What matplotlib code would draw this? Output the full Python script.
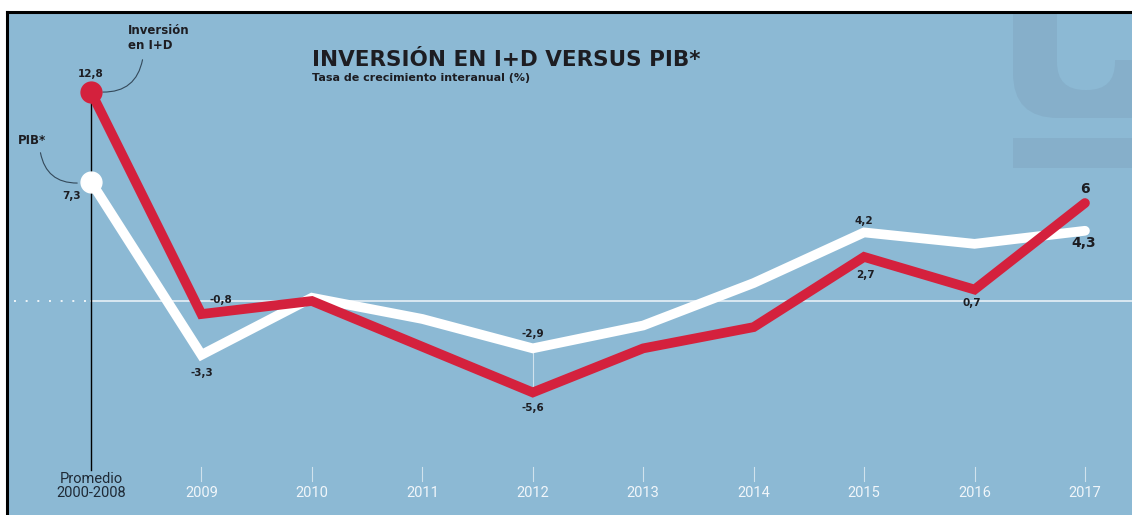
import matplotlib
matplotlib.use("Agg")
import matplotlib.pyplot as plt
from matplotlib.patches import Rectangle, FancyBboxPatch
from matplotlib.transforms import IdentityTransform

# data (tasa de crecimiento interanual, %)
periodos = ["Promedio\n2000-2008", "2009", "2010", "2011", "2012",
            "2013", "2014", "2015", "2016", "2017"]
inversion_id = [12.8, -0.8, 0.0, -2.8, -5.6, -2.9, -1.6, 2.7, 0.7, 6.0]
pib = [7.3, -3.3, 0.2, -1.1, -2.9, -1.5, 1.1, 4.2, 3.5, 4.3]

BG = "#8cb9d4"
DARK = "#86afca"
RED = "#d4213d"
TXT = "#1d1d22"
BOLD = "DejaVu Sans"

W, H = 1132, 515
fig = plt.figure(figsize=(W / 100, H / 100), dpi=100, facecolor="white")
# axes area in image pixels: x 7..1132, y 12..515
ax = fig.add_axes([7 / W, 0, (W - 7) / W, (H - 12) / H])
ax.set_facecolor(BG)
for s in ["right", "bottom"]:
    ax.spines[s].set_visible(False)
for s in ["top", "left"]:
    ax.spines[s].set_color("black")
    ax.spines[s].set_linewidth(2.2)
ax.set_xticks([])
ax.set_yticks([])

# scale: index 0 at px 91, step 110.44 px; zero at px 301, 16.33 px per unit
step, x0 = 110.44, 91 - 7
ax.set_xlim(-x0 / step, (W - 7 - x0) / step)
upp = 16.33
ax.set_ylim(-(H - 301) / upp, (301 - 12) / upp)


def px(x, y):
    # image pixel -> display coords
    return x, H - y


def dx(x):
    return (x - 91) / step


def dy(y):
    return (301 - y) / upp


# watermark logo (top right)
logo = dict(transform=IdentityTransform(), zorder=0.5, lw=0)
ax.add_patch(FancyBboxPatch(px(1013, 118), 160, 230,
                            boxstyle="round,pad=0,rounding_size=45",
                            fc=DARK, **logo))
ax.add_patch(FancyBboxPatch(px(1057, 90), 58, 200,
                            boxstyle="round,pad=0,rounding_size=28",
                            fc=BG, **logo))
ax.add_patch(Rectangle(px(1115, 60), 40, 60, fc=BG, **logo))
ax.add_patch(Rectangle(px(1013, 168), 130, 30, fc=DARK, **logo))

n = len(periodos)
idx = list(range(n))

# zero line
ax.plot([0, n], [0, 0], color="white", lw=1.1, alpha=0.85, zorder=1)
ax.plot([dx(14), -0.03], [0, 0], color="white", lw=1.4, ls=(0, (1, 5)),
        alpha=0.85, zorder=1)
# guide at 2012
ax.plot([4, 4], [pib[4], inversion_id[4]], color="white", lw=0.8,
        alpha=0.6, zorder=1)
# vertical line at promedio
ax.plot([0, 0], [inversion_id[0], dy(470)], color="black", lw=1.0, zorder=1)

# series
ax.plot(idx, pib, color="white", lw=7, solid_joinstyle="miter",
        solid_capstyle="round", zorder=3)
ax.plot(idx, inversion_id, color=RED, lw=7, solid_joinstyle="miter",
        solid_capstyle="round", zorder=4)
ax.plot(0, pib[0], "o", color="white", ms=15, zorder=3)
ax.plot(0, inversion_id[0], "o", color=RED, ms=15, zorder=4)

# x labels and ticks
for i, lab in enumerate(periodos):
    if i == 0:
        ax.text(i, dy(486), lab, ha="center", va="center", color="#1f2a36",
                fontsize=10.5, family="Roboto", linespacing=1.05)
    else:
        ax.plot([i, i], [dy(467), dy(481)], color="white", lw=0.8,
                alpha=0.6)
        ax.text(i, dy(493), lab, ha="center", va="center", color="#f1f6fa",
                fontsize=10.5, family="Roboto")

lab_kw = dict(fontsize=7.5, fontweight="bold", family=BOLD, color=TXT,
              ha="center", va="center")


def fmt(v):
    return f"{v:.1f}".replace(".", ",")


# value labels (offsets in points)
ax.annotate(fmt(inversion_id[0]), (0, inversion_id[0]), xytext=(0, 13),
            textcoords="offset points", **lab_kw)
ax.annotate(fmt(pib[0]), (0, pib[0]), xytext=(-14, -10),
            textcoords="offset points", **lab_kw)
ax.annotate(fmt(inversion_id[1]), (1, inversion_id[1]), xytext=(14, 10),
            textcoords="offset points", **lab_kw)
ax.annotate(fmt(pib[1]), (1, pib[1]), xytext=(0, -13),
            textcoords="offset points", **lab_kw)
ax.annotate(fmt(pib[4]), (4, pib[4]), xytext=(0, 10),
            textcoords="offset points", **lab_kw)
ax.annotate(fmt(inversion_id[4]), (4, inversion_id[4]), xytext=(0, -11),
            textcoords="offset points", **lab_kw)
ax.annotate(fmt(pib[7]), (7, pib[7]), xytext=(0, 8),
            textcoords="offset points", **lab_kw)
ax.annotate(fmt(inversion_id[7]), (7, inversion_id[7]), xytext=(1, -13),
            textcoords="offset points", **lab_kw)
ax.annotate(fmt(inversion_id[8]), (8, inversion_id[8]), xytext=(-2, -10),
            textcoords="offset points", **lab_kw)
big_kw = dict(lab_kw, fontsize=10)
ax.annotate("6", (9, inversion_id[9]), xytext=(0, 10),
            textcoords="offset points", **big_kw)
ax.annotate(fmt(pib[9]), (9, pib[9]), xytext=(-1, -9),
            textcoords="offset points", **big_kw)

# series names with curved connectors
name_kw = dict(fontsize=8.5, fontweight="bold", family=BOLD, color=TXT)
ax.text(dx(128), dy(38), "Inversión\nen I+D", ha="left", va="center",
        linespacing=1.15, **name_kw)
ax.annotate("", xy=(dx(100), dy(92)), xytext=(dx(143), dy(57)),
            arrowprops=dict(arrowstyle="-", color="#34495a", lw=0.8,
                            connectionstyle="arc3,rad=-0.45"))
ax.text(dx(18), dy(141), "PIB*", ha="left", va="center", **name_kw)
ax.annotate("", xy=(dx(80), dy(183)), xytext=(dx(40), dy(150)),
            arrowprops=dict(arrowstyle="-", color="#34495a", lw=0.8,
                            connectionstyle="arc3,rad=0.45"))

# title
ax.text(dx(312), dy(60), "INVERSIÓN EN I+D VERSUS PIB*",
        ha="left", va="center", fontsize=15.5, fontweight="bold",
        family=BOLD, color=TXT)
ax.text(dx(312), dy(78), "Tasa de crecimiento interanual (%)",
        ha="left", va="center", fontsize=8, fontweight="bold",
        family=BOLD, color=TXT)

fig.savefig("out.png", dpi=100, facecolor="white")
